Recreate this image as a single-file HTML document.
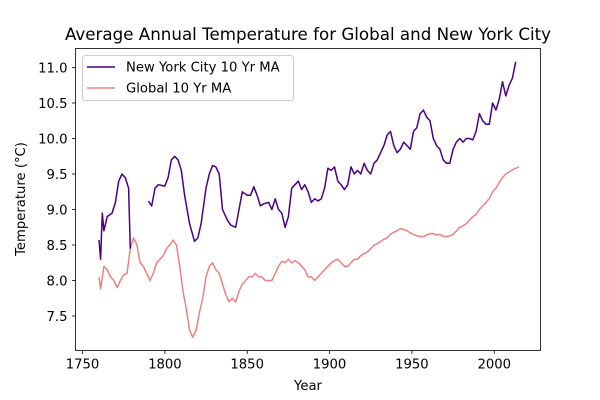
<!DOCTYPE html>
<html><head><meta charset="utf-8"><style>
body{margin:0;background:#fff}
svg{display:block;font-family:"DejaVu Sans","Liberation Sans",sans-serif}
</style></head><body>
<svg id="chart" width="600" height="400" viewBox="0 0 600 400">
<rect width="600" height="400" fill="#fff"/>
<text x="308" y="40" text-anchor="middle" font-size="16.7">Average Annual Temperature for Global and New York City</text>
<g id="plot"></g>
<text x="308" y="390" text-anchor="middle" font-size="13.2">Year</text>
<text transform="translate(25,199) rotate(-90)" text-anchor="middle" font-size="13.2">Temperature (°C)</text>
<g>
<rect x="82.5" y="55.5" width="211" height="45" rx="3" fill="#fff" stroke="#ccc"/>
<line x1="87" y1="67" x2="115" y2="67" stroke="#4b0082" stroke-width="1.5"/>
<text x="126" y="71.5" font-size="13.2">New York City 10 Yr MA</text>
<line x1="87" y1="88" x2="115" y2="88" stroke="#f08080" stroke-width="1.5"/>
<text x="126" y="92.5" font-size="13.2">Global 10 Yr MA</text>
</g>
</svg>
<script>
const nycYears=[1760,1761,1762,1763,1765,1768,1770,1772,1774,1776,1778,1779,1785,1790,1792,1794,1796,1800,1802,1804,1806,1808,1810,1812,1815,1818,1820,1822,1825,1827,1829,1831,1833,1835,1838,1840,1843,1845,1847,1850,1852,1854,1856,1858,1860,1863,1865,1867,1869,1871,1873,1875,1877,1879,1881,1883,1885,1887,1889,1891,1893,1895,1897,1899,1901,1903,1905,1907,1909,1911,1913,1915,1917,1919,1921,1923,1925,1927,1929,1931,1933,1935,1937,1939,1941,1943,1945,1947,1949,1951,1953,1955,1957,1959,1961,1963,1965,1967,1969,1971,1973,1975,1977,1979,1981,1983,1985,1987,1989,1991,1993,1995,1997,1999,2001,2003,2005,2007,2009,2011,2013];
const nycValues=[8.57,8.3,8.95,8.7,8.9,8.95,9.1,9.4,9.5,9.45,9.3,8.45,null,9.12,9.05,9.3,9.35,9.33,9.45,9.7,9.75,9.7,9.55,9.2,8.8,8.55,8.6,8.8,9.3,9.5,9.62,9.6,9.5,9.0,8.85,8.78,8.75,9.0,9.25,9.2,9.2,9.32,9.2,9.05,9.08,9.1,9.0,9.15,9.0,8.95,8.75,8.9,9.3,9.35,9.4,9.28,9.35,9.25,9.1,9.15,9.12,9.15,9.3,9.58,9.55,9.6,9.4,9.35,9.28,9.35,9.6,9.5,9.55,9.5,9.65,9.55,9.5,9.65,9.7,9.8,9.9,10.05,10.1,9.9,9.8,9.85,9.95,9.9,9.85,10.1,10.15,10.35,10.4,10.3,10.25,10.0,9.9,9.85,9.7,9.65,9.65,9.85,9.95,10.0,9.95,10.0,10.0,9.98,10.1,10.35,10.25,10.2,10.2,10.5,10.4,10.55,10.8,10.6,10.75,10.85,11.08];
const globalYears=[1760,1761,1763,1765,1767,1769,1771,1773,1775,1777,1779,1781,1783,1785,1787,1789,1791,1793,1795,1797,1799,1801,1803,1805,1807,1809,1811,1813,1815,1817,1819,1821,1823,1825,1827,1829,1831,1833,1835,1837,1839,1841,1843,1845,1847,1849,1851,1853,1855,1857,1859,1861,1863,1865,1867,1869,1871,1873,1875,1877,1879,1881,1883,1885,1887,1889,1891,1893,1895,1897,1899,1901,1903,1905,1907,1909,1911,1913,1915,1917,1919,1921,1923,1925,1927,1929,1931,1933,1935,1937,1939,1941,1943,1945,1947,1949,1951,1953,1955,1957,1959,1961,1963,1965,1967,1969,1971,1973,1975,1977,1979,1981,1983,1985,1987,1989,1991,1993,1995,1997,1999,2001,2003,2005,2007,2009,2011,2013,2015];
const globalValues=[8.05,7.88,8.2,8.15,8.05,8.0,7.9,8.0,8.08,8.1,8.45,8.6,8.5,8.25,8.2,8.1,8.0,8.1,8.25,8.3,8.35,8.45,8.5,8.57,8.5,8.2,7.85,7.6,7.3,7.2,7.3,7.55,7.75,8.05,8.2,8.25,8.15,8.1,7.95,7.8,7.7,7.75,7.7,7.85,7.95,8.0,8.05,8.05,8.1,8.05,8.05,8.0,8.0,8.0,8.1,8.2,8.27,8.25,8.3,8.25,8.28,8.25,8.2,8.15,8.05,8.05,8.0,8.05,8.1,8.15,8.2,8.25,8.28,8.3,8.25,8.2,8.2,8.25,8.3,8.3,8.35,8.38,8.4,8.45,8.5,8.52,8.55,8.58,8.6,8.65,8.68,8.7,8.73,8.72,8.7,8.67,8.65,8.63,8.62,8.62,8.64,8.66,8.66,8.64,8.65,8.62,8.62,8.63,8.65,8.7,8.75,8.77,8.8,8.85,8.9,8.93,9.0,9.05,9.1,9.15,9.25,9.3,9.38,9.45,9.5,9.53,9.56,9.58,9.6];
const xTicks=[1750,1800,1850,1900,1950,2000];
const yTicks=[7.5,8.0,8.5,9.0,9.5,10.0,10.5,11.0];

const L=75.5,R=540.5,T=48.5,B=350.5;
const xS=y=>82.5+(y-1750)*1.647;
const yS=v=>67.5+(11-v)*71;
const NS='http://www.w3.org/2000/svg';
const plot=document.getElementById('plot');
function mk(tag,attrs){const e=document.createElementNS(NS,tag);for(const k in attrs)e.setAttribute(k,attrs[k]);return e;}

function pathFor(xs,vs){let d='',pen=false;for(let i=0;i<xs.length;i++){if(vs[i]==null){pen=false;continue;}d+=(pen?'L':'M')+xS(xs[i]).toFixed(1)+','+yS(vs[i]).toFixed(1);pen=true;}return d;}
const g=mk('path',{d:pathFor(globalYears,globalValues),fill:'none',stroke:'#f08080','stroke-width':1.5,'stroke-linejoin':'round'});


plot.appendChild(g);
const n=mk('path',{d:pathFor(nycYears,nycValues),fill:'none',stroke:'#4b0082','stroke-width':1.5,'stroke-linejoin':'round'});


plot.appendChild(n);

const frame=mk('rect',{x:L,y:T,width:R-L,height:B-T,fill:'none',stroke:'#000','stroke-width':0.8});


plot.appendChild(frame);

xTicks.forEach(t=>{const x=xS(t);
const tk=mk('line',{x1:x,y1:B,x2:x,y2:B+3.5,stroke:'#000','stroke-width':0.8});


plot.appendChild(tk);
const tx=mk('text',{x:x,y:B+18,'text-anchor':'middle','font-size':13.2});tx.textContent=t;


plot.appendChild(tx);});
yTicks.forEach(t=>{const y=yS(t);
const tk=mk('line',{x1:L-3.5,y1:y,x2:L,y2:y,stroke:'#000','stroke-width':0.8});


plot.appendChild(tk);
const tx=mk('text',{x:L-8,y:y+4.8,'text-anchor':'end','font-size':13.2});tx.textContent=t.toFixed(1);


plot.appendChild(tx);});
</script>
</body></html>
